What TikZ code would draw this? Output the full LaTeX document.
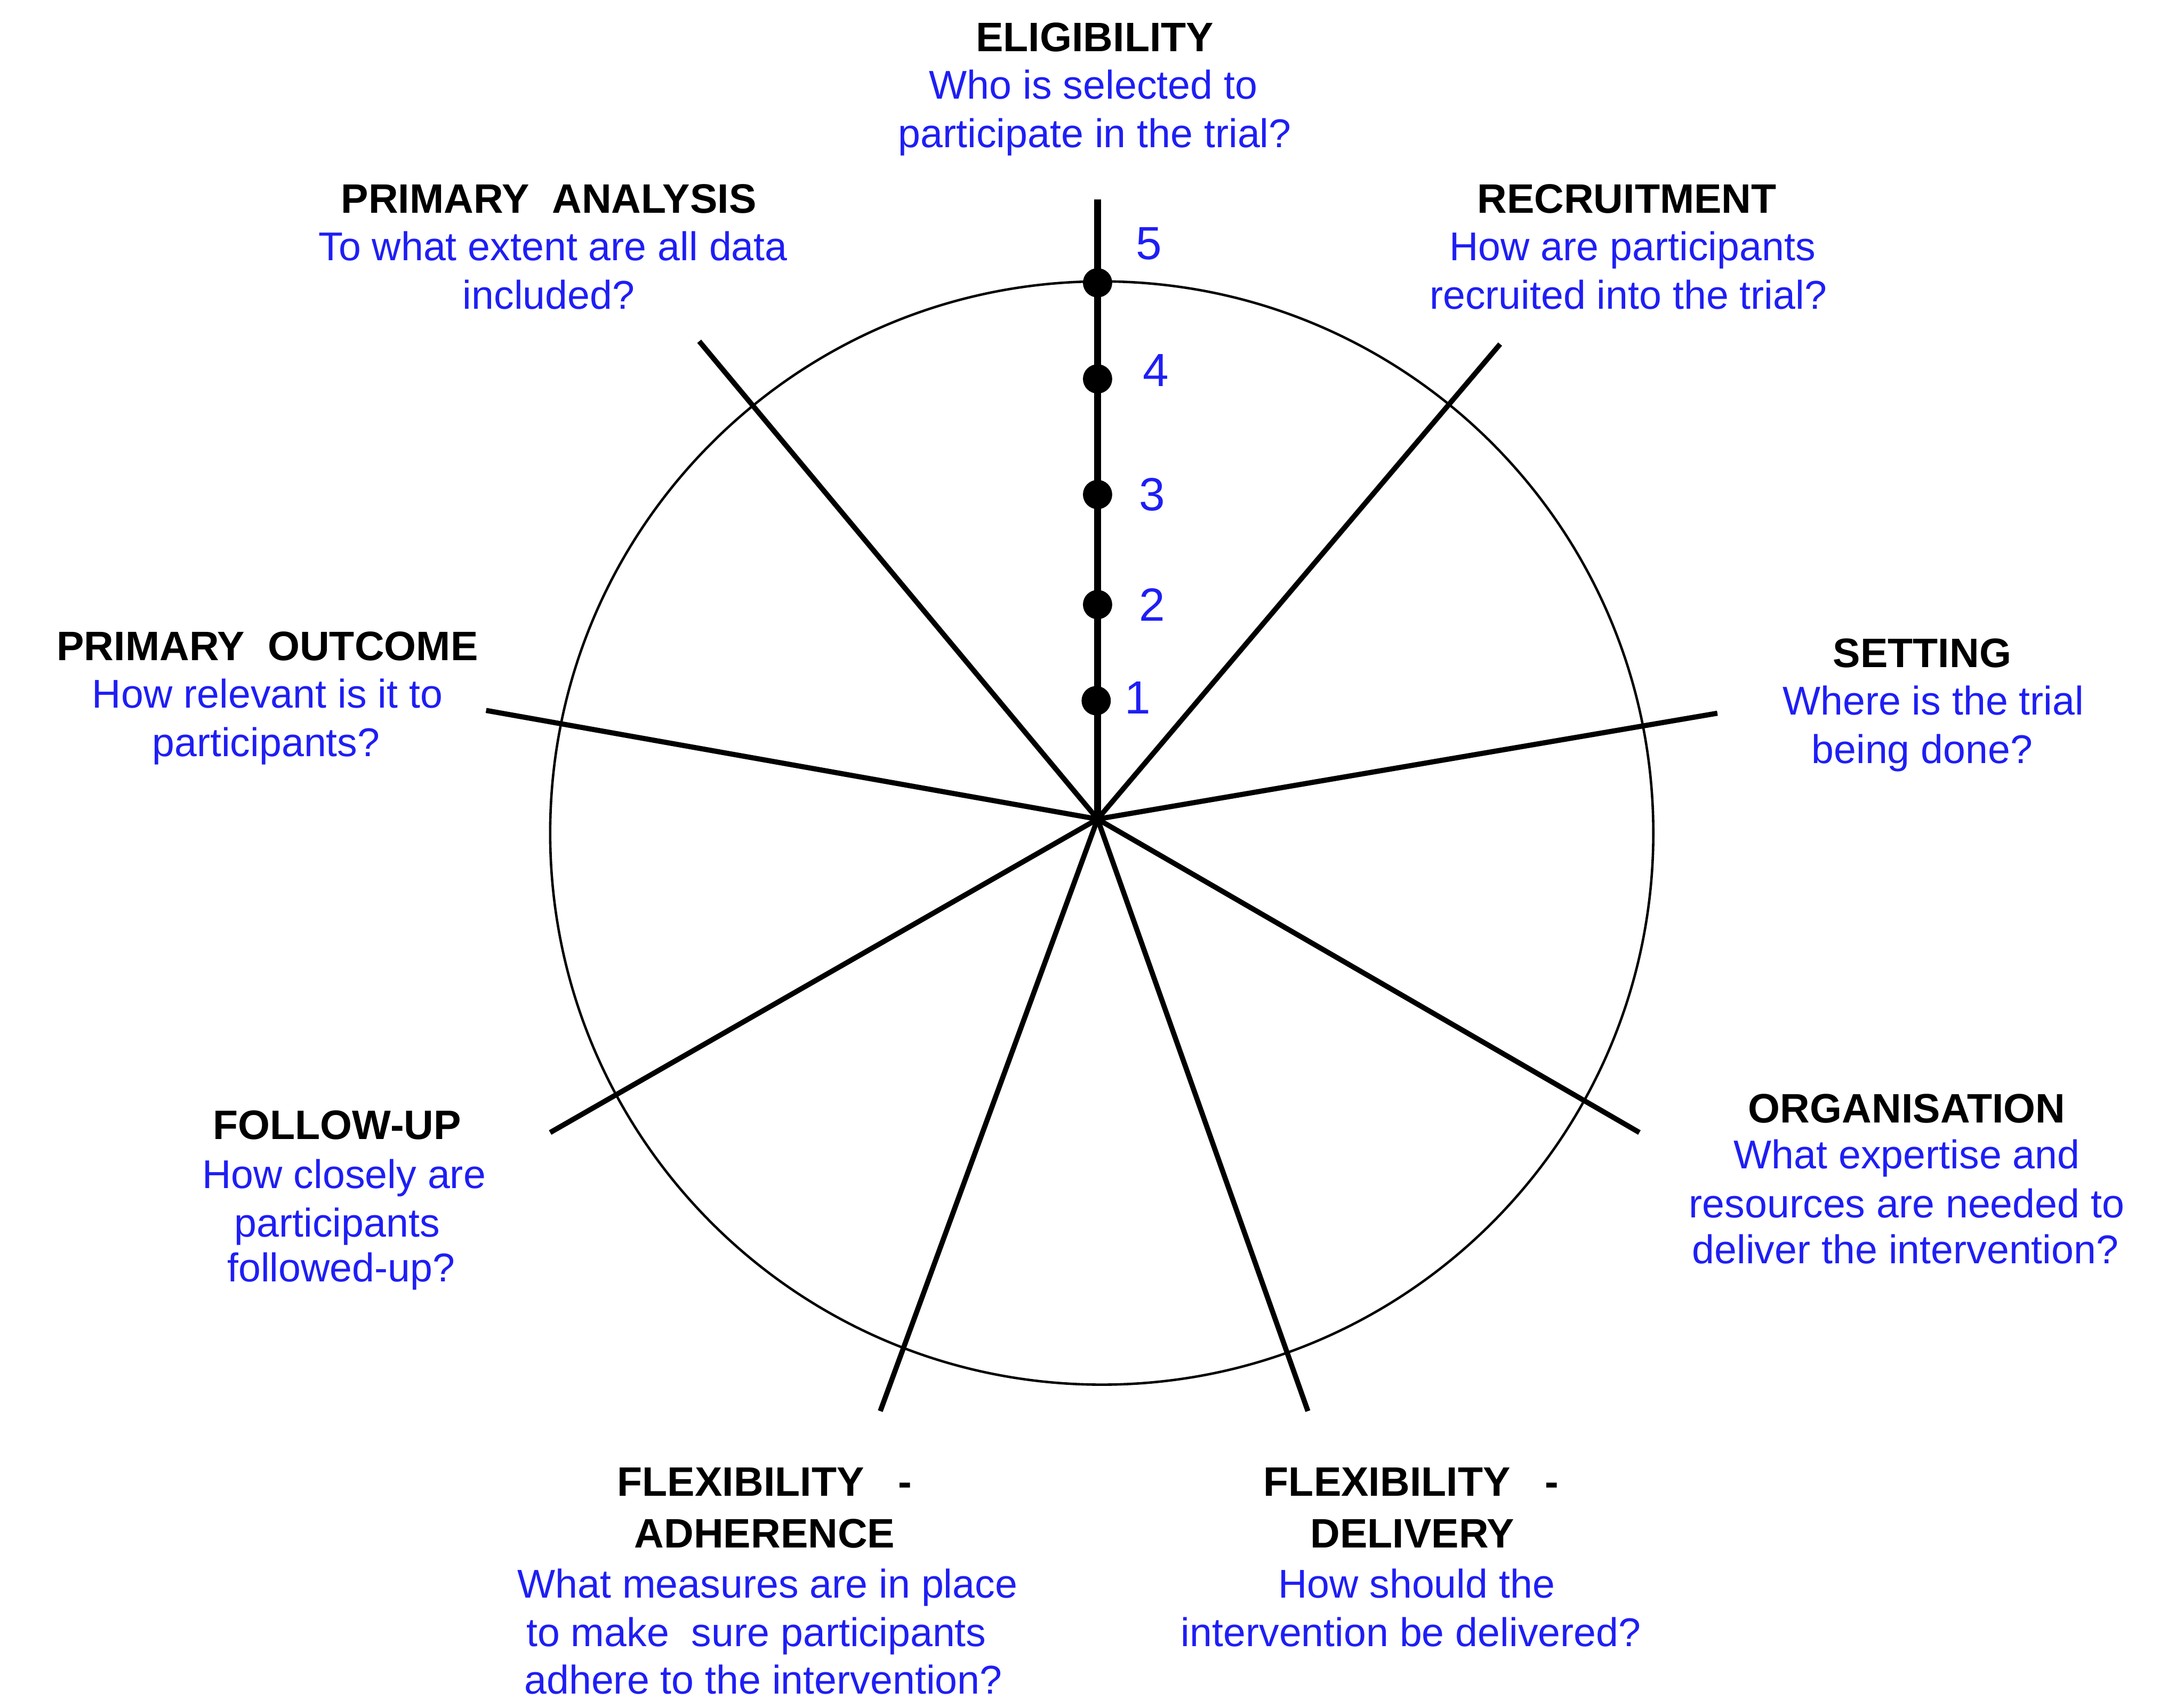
\documentclass[tikz,border=0pt]{standalone}
\usepackage{fontspec}
\setmainfont{Liberation Sans}
\definecolor{qblue}{RGB}{30,30,245}
\begin{document}
\begin{tikzpicture}[x=0.01cm,y=-0.01cm,
  ttl/.style={anchor=base,inner sep=0pt,font=\fontsize{8.4pt}{10pt}\selectfont\bfseries,text=black},
  qst/.style={anchor=base,inner sep=0pt,font=\fontsize{8.2pt}{10pt}\selectfont,text=qblue},
  numlbl/.style={anchor=center,inner sep=0pt,font=\fontsize{9.5pt}{11pt}\selectfont,text=qblue},
  spoke/.style={line width=1.05pt,black},
  axis/.style={line width=1.5pt,black},
  rim/.style={line width=0.5pt,black}]
\useasboundingbox (0,0) rectangle (1568,1226);
\fill[white] (0,0) rectangle (1568,1226);

% centre and spoke ends
\coordinate (c) at (788,588);
\coordinate (top) at (788,143);
\coordinate (rec) at (1077,247);
\coordinate (set) at (1233,512);
\coordinate (org) at (1177,813);
\coordinate (del) at (939,1013);
\coordinate (adh) at (632,1013);
\coordinate (fol) at (395,813);
\coordinate (out) at (349,510);
\coordinate (ana) at (502,245);

\draw[rim] (791,598) circle [radius=396];

\foreach \e in {rec,set,org,del,adh,fol,out,ana} \draw[spoke] (c) -- (\e);
\draw[axis] (c) -- (top);

% scale dots
\coordinate (d5) at (788,203);
\coordinate (d4) at (788,272);
\coordinate (d3) at (788,355);
\coordinate (d2) at (788,434);
\coordinate (d1) at (787,503);
\foreach \d in {d1,d2,d3,d4,d5} \fill (\d) circle [radius=10.5];

\node[numlbl] (n5) at (825,175) {5};
\node[numlbl] (n4) at (830,266) {4};
\node[numlbl] (n3) at (827,355) {3};
\node[numlbl] (n2) at (827,434) {2};
\node[numlbl] (n1) at (817,501) {1};

% labels
\node[ttl] (eligT) at (786,37) {ELIGIBILITY};
\node[qst] (elig1) at (785,71) {Who is selected to};
\node[qst] (elig2) at (786,106) {participate in the trial?};

\node[ttl] (recT) at (1168,153) {RECRUITMENT};
\node[qst] (rec1) at (1172,187) {How are participants};
\node[qst] (rec2) at (1169,222) {recruited into the trial?};

\node[ttl] (anaT) at (394,153) {PRIMARY\ \ ANALYSIS};
\node[qst] (ana1) at (397,187) {To what extent are all data};
\node[qst] (ana2) at (394,222) {included?};

\node[ttl] (setT) at (1380,479) {SETTING};
\node[qst] (set1) at (1388,513) {Where is the trial};
\node[qst] (set2) at (1380,548) {being done?};

\node[ttl] (outT) at (192,474) {PRIMARY\ \ OUTCOME};
\node[qst] (out1) at (192,508) {How relevant is it to};
\node[qst] (out2) at (191,543) {participants?};

\node[ttl] (orgT) at (1369,806) {ORGANISATION};
\node[qst] (org1) at (1369,839) {What expertise and};
\node[qst] (org2) at (1369,874) {resources are needed to};
\node[qst] (org3) at (1368,907) {deliver the intervention?};

\node[ttl] (folT) at (242,818) {FOLLOW-UP};
\node[qst] (fol1) at (247,853) {How closely are};
\node[qst] (fol2) at (242,888) {participants};
\node[qst] (fol3) at (245,920) {followed-up?};

\node[ttl] (adhT1) at (549,1074) {FLEXIBILITY\ \ \ -};
\node[ttl] (adhT2) at (549,1111) {ADHERENCE};
\node[qst] (adh1) at (551,1147) {What measures are in place};
\node[qst] (adh2) at (543,1182) {to make\ \ sure participants};
\node[qst] (adh3) at (548,1216) {adhere to the intervention?};

\node[ttl] (delT1) at (1013,1074) {FLEXIBILITY\ \ \ -};
\node[ttl] (delT2) at (1014,1111) {DELIVERY};
\node[qst] (del1) at (1017,1147) {How should the};
\node[qst] (del2) at (1013,1182) {intervention be delivered?};
\end{tikzpicture}
\end{document}
